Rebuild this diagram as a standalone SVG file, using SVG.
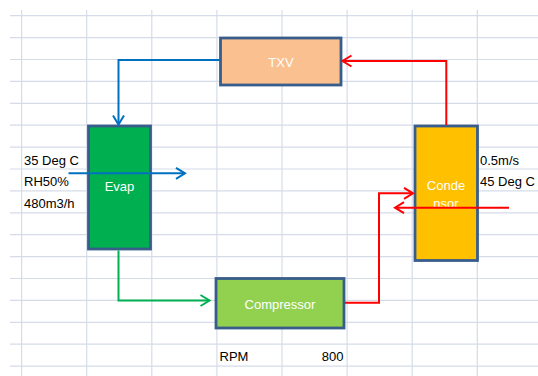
<svg xmlns="http://www.w3.org/2000/svg" width="538" height="376" viewBox="0 0 538 376">
<style>
.grid line{stroke:#D5DCE8;stroke-width:1.2}
.box{stroke:#385D8A;stroke-width:2.8}
.lbl{font-family:"Liberation Sans",Arial,sans-serif;font-size:13px;fill:#000}
.in{font-family:"Liberation Sans",Arial,sans-serif;font-size:13px;fill:#FFFFFF;text-anchor:middle}
.c{fill:none;stroke-width:2}
</style>
<defs>
<marker id="ab" markerUnits="userSpaceOnUse" markerWidth="14" markerHeight="14" viewBox="-11 -7 13 14" refX="0" refY="0" orient="auto"><path d="M-9,-5.5 L0,0 L-9,5.5" fill="none" stroke="#0070C0" stroke-width="2"/></marker>
<marker id="ag" markerUnits="userSpaceOnUse" markerWidth="14" markerHeight="14" viewBox="-11 -7 13 14" refX="0" refY="0" orient="auto"><path d="M-9,-5.5 L0,0 L-9,5.5" fill="none" stroke="#00B050" stroke-width="2"/></marker>
<marker id="ar" markerUnits="userSpaceOnUse" markerWidth="14" markerHeight="14" viewBox="-11 -7 13 14" refX="0" refY="0" orient="auto"><path d="M-9,-5.5 L0,0 L-9,5.5" fill="none" stroke="#FF0000" stroke-width="2"/></marker>
</defs>
<rect width="538" height="376" fill="#FFFFFF"/>
<g class="grid">
<line x1="10" y1="15.7" x2="538" y2="15.7"/>
<line x1="10" y1="37.6" x2="538" y2="37.6"/>
<line x1="10" y1="59.5" x2="538" y2="59.5"/>
<line x1="10" y1="81.4" x2="538" y2="81.4"/>
<line x1="10" y1="103.3" x2="538" y2="103.3"/>
<line x1="10" y1="125.2" x2="538" y2="125.2"/>
<line x1="10" y1="147.1" x2="538" y2="147.1"/>
<line x1="10" y1="169" x2="538" y2="169"/>
<line x1="10" y1="190.9" x2="538" y2="190.9"/>
<line x1="10" y1="212.8" x2="538" y2="212.8"/>
<line x1="10" y1="234.7" x2="538" y2="234.7"/>
<line x1="10" y1="256.6" x2="538" y2="256.6"/>
<line x1="10" y1="278.5" x2="538" y2="278.5"/>
<line x1="10" y1="300.4" x2="538" y2="300.4"/>
<line x1="10" y1="322.3" x2="538" y2="322.3"/>
<line x1="10" y1="344.2" x2="538" y2="344.2"/>
<line x1="10" y1="366.1" x2="538" y2="366.1"/>
<line x1="21.6" y1="10" x2="21.6" y2="376"/>
<line x1="86.7" y1="10" x2="86.7" y2="376"/>
<line x1="151.8" y1="10" x2="151.8" y2="376"/>
<line x1="216.9" y1="10" x2="216.9" y2="376"/>
<line x1="282" y1="10" x2="282" y2="376"/>
<line x1="347.1" y1="10" x2="347.1" y2="376"/>
<line x1="412.2" y1="10" x2="412.2" y2="376"/>
<line x1="477.3" y1="10" x2="477.3" y2="376"/>
</g>
<g id="labels">
<text class="lbl" x="24" y="165">35 Deg C</text>
<text class="lbl" x="24" y="186">RH50%</text>
<text class="lbl" x="24" y="207.5">480m3/h</text>
<text class="lbl" x="480" y="165">0.5m/s</text>
<text class="lbl" x="480" y="186">45 Deg C</text>
<text class="lbl" x="219.5" y="361">RPM</text>
<text class="lbl" x="343.5" y="361" text-anchor="end">800</text>
</g>
<g id="txv">
<rect class="box" x="220.5" y="38" width="120.5" height="47" fill="#FAC090"/>
<text class="in" x="281" y="66.5">TXV</text>
</g>
<g id="evap">
<rect class="box" x="88.5" y="126" width="62" height="123" fill="#00B050"/>
<text class="in" x="119.5" y="191">Evap</text>
</g>
<g id="condenser">
<rect class="box" x="415" y="126" width="62.5" height="134.5" fill="#FFC000"/>
<text class="in" x="446" y="189.5">Conde</text>
<text class="in" x="446" y="208">nsor</text>
</g>
<g id="compressor">
<rect class="box" x="216" y="278.5" width="128" height="49.5" fill="#92D050"/>
<text class="in" x="280" y="308.5">Compressor</text>
</g>
<g id="connectors">
<path class="c" d="M220,60 H118.5 V124.5" stroke="#0070C0" marker-end="url(#ab)"/>
<path class="c" d="M68.5,173.3 H185" stroke="#0070C0" marker-end="url(#ab)"/>
<path class="c" d="M118.5,250.5 V300.5 H209.5" stroke="#00B050" marker-end="url(#ag)"/>
<path class="c" d="M345,302.7 H379 V193.3 H413" stroke="#FF0000" marker-end="url(#ar)"/>
<path class="c" d="M446.3,125 V61 H342.5" stroke="#FF0000" marker-end="url(#ar)"/>
<path class="c" d="M509,207.7 H395" stroke="#FF0000" marker-end="url(#ar)"/>
</g>
</svg>
